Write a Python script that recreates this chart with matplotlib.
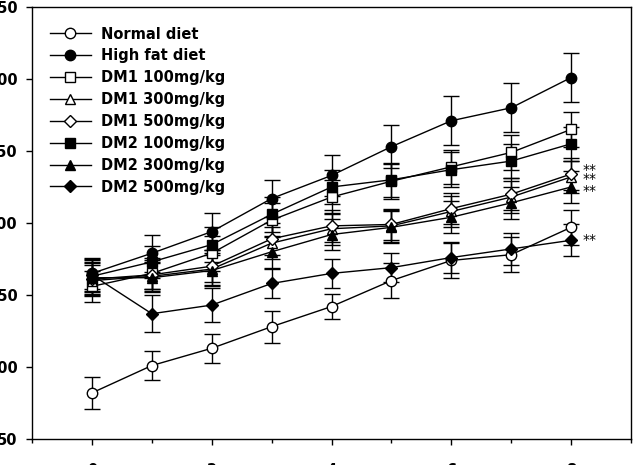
import matplotlib
matplotlib.use("Agg")
import matplotlib.pyplot as plt
from matplotlib.ticker import MultipleLocator

plt.rcParams['font.family'] = ['DejaVu Sans']

weeks = [0, 1, 2, 3, 4, 5, 6, 7, 8]
labels = ["Normal diet", "High fat diet", "DM1 100mg/kg", "DM1 300mg/kg",
          "DM1 500mg/kg", "DM2 100mg/kg", "DM2 300mg/kg", "DM2 500mg/kg"]

normal = [82, 101, 113, 128, 142, 160, 174, 178, 197]
high_fat = [165, 179, 194, 217, 233, 253, 271, 280, 301]
dm1_100 = [156, 165, 179, 202, 218, 229, 239, 249, 265]
dm1_300 = [160, 163, 168, 186, 196, 198, 208, 218, 232]
dm1_500 = [161, 164, 170, 189, 198, 199, 210, 220, 234]
dm2_100 = [163, 173, 185, 206, 225, 230, 237, 243, 255]
dm2_300 = [162, 162, 167, 180, 192, 197, 204, 214, 225]
dm2_500 = [164, 137, 143, 158, 165, 169, 176, 182, 188]

normal_err = [11, 10, 10, 11, 9, 12, 12, 12, 12]
high_fat_err = [11, 13, 13, 13, 14, 15, 17, 17, 17]
dm1_100_err = [11, 11, 12, 12, 12, 12, 12, 12, 12]
dm1_300_err = [11, 10, 11, 11, 11, 11, 11, 11, 11]
dm1_500_err = [11, 10, 11, 11, 11, 11, 11, 11, 11]
dm2_100_err = [11, 11, 12, 12, 12, 12, 12, 12, 12]
dm2_300_err = [11, 10, 11, 11, 11, 11, 11, 11, 11]
dm2_500_err = [11, 13, 12, 10, 10, 10, 11, 11, 11]

series = [normal, high_fat, dm1_100, dm1_300, dm1_500, dm2_100, dm2_300, dm2_500]
errors = [normal_err, high_fat_err, dm1_100_err, dm1_300_err, dm1_500_err,
          dm2_100_err, dm2_300_err, dm2_500_err]
markers = ['o', 'o', 's', '^', 'D', 's', '^', 'D']
filled = [False, True, False, False, False, True, True, True]
msizes = [7.5, 7.5, 6.5, 7, 6, 6.5, 7, 6]

star_series = [dm1_500, dm1_300, dm2_300, dm2_500]
star_offsets = [3, -1.5, -3, 0]

fig = plt.figure(figsize=(6.41, 4.65), dpi=100)
ax = fig.add_axes([32/641, 1 - 439/465, (631 - 32)/641, (439 - 7)/465])

handles = []
for y, e, m, f, ms, lab in zip(series, errors, markers, filled, msizes, labels):
    c = ax.errorbar(weeks, y, yerr=e, marker=m, ms=ms, color='black',
                    mfc='black' if f else 'white', mec='black', mew=1.0,
                    lw=1.0, elinewidth=1.0, capsize=5.5, capthick=1.2,
                    label=lab, zorder=3)
    handles.append(c.lines[0])

for y, off in zip(star_series, star_offsets):
    ax.annotate("**", (weeks[-1], y[-1]), xytext=(8, off), textcoords='offset points',
                ha='left', va='center', fontsize=10)

ax.set_xlim(-1, 9)
ax.set_ylim(50, 350)
ax.set_xticks([0, 2, 4, 6, 8])
ax.xaxis.set_minor_locator(MultipleLocator(1))
ax.set_yticks([50, 100, 150, 200, 250, 300, 350])
ax.tick_params(axis='both', which='major', direction='out', length=4.3, width=1,
               labelsize=10.5)
ax.tick_params(axis='y', which='major', pad=6)
ax.tick_params(axis='x', which='major', pad=13)
ax.tick_params(axis='x', which='minor', direction='out', length=3, width=1)
for lbl in ax.get_xticklabels() + ax.get_yticklabels():
    lbl.set_fontweight('bold')
for sp in ax.spines.values():
    sp.set_linewidth(1.0)

ax.legend(handles=handles, labels=labels, loc='upper left',
          bbox_to_anchor=(0.015, 0.975), frameon=False,
          prop={'weight': 'bold', 'size': 10.5}, handlelength=2.8,
          handletextpad=0.7, labelspacing=0.47, borderaxespad=0.2)

fig.savefig("out.png", dpi=100)
